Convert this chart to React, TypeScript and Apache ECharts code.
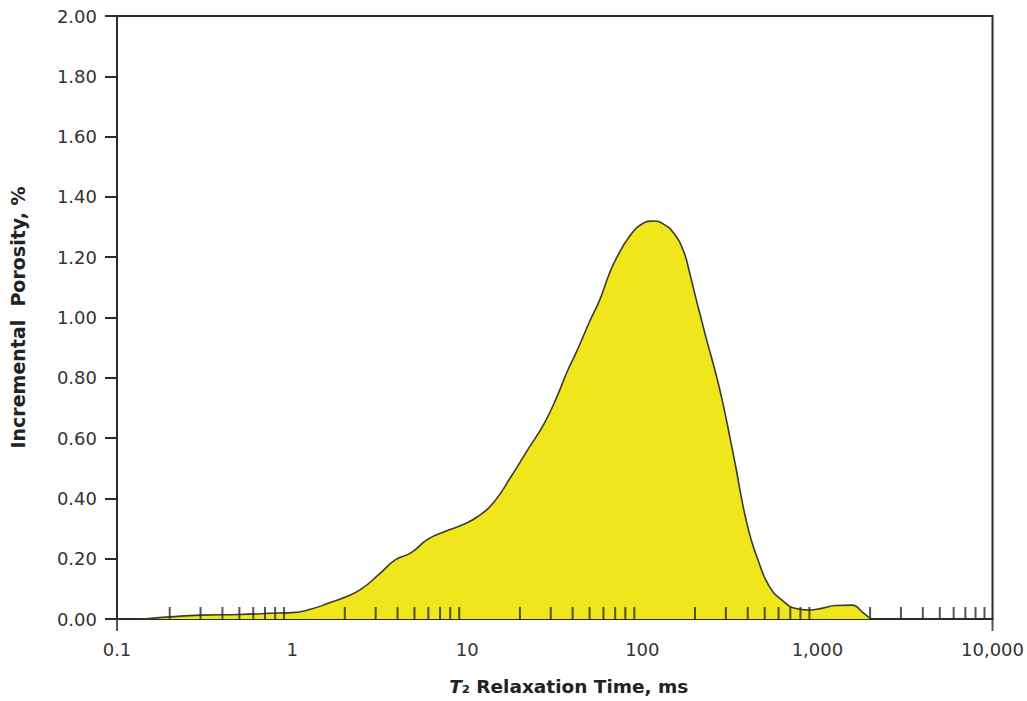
import React, { useEffect, useRef } from "react";
import * as echarts from "echarts";

// T2 relaxation time (ms) and incremental porosity (%)
const T2_MS = [0.14, 0.2, 0.3, 0.5, 0.84, 1.0, 1.29, 1.62, 2.02, 2.49, 3.11, 3.88, 4.79, 5.97, 7.46, 9.2, 11.5, 14.3, 17.7, 22.1, 27.6, 32.7, 37.2, 42.4, 50.3, 57.3, 64.3, 71.6, 84.8, 99.6, 116, 132, 151, 172, 186, 203, 216, 232, 264, 290, 317, 343, 366, 391, 420, 455, 529, 635, 752, 900, 1071, 1268, 1584, 1806, 1953, 2031];
const POROSITY = [0, 0.007, 0.013, 0.015, 0.02, 0.021, 0.033, 0.053, 0.073, 0.1, 0.146, 0.196, 0.22, 0.265, 0.29, 0.31, 0.34, 0.39, 0.47, 0.56, 0.65, 0.74, 0.82, 0.89, 0.99, 1.06, 1.14, 1.2, 1.27, 1.31, 1.32, 1.31, 1.28, 1.22, 1.15, 1.06, 1.0, 0.93, 0.81, 0.71, 0.6, 0.5, 0.41, 0.33, 0.26, 0.2, 0.11, 0.06, 0.035, 0.03, 0.036, 0.045, 0.046, 0.023, 0.007, 0];

const X_TICK_LABELS = ["0.1", "1", "10", "100", "1,000", "10,000"];
const DECADES = [0.1, 1, 10, 100, 1000];
const MINOR_MULTIPLIERS = [2, 3, 4, 5, 6, 7, 8, 9];
const AXIS_ENDS = [0.1, 10000];

const FONT = "DejaVu Sans";
const INK = "#2b2b2b";

export default function App() {
  const ref = useRef<HTMLDivElement>(null);
  useEffect(() => {
    if (!ref.current) return;
    const chart = echarts.init(ref.current, null, { renderer: "svg" });
    const curve = T2_MS.map((t, i) => [t, POROSITY[i]]);
    const minorTicks: number[][] = [];
    DECADES.forEach((d) => MINOR_MULTIPLIERS.forEach((m) => minorTicks.push([+(d * m).toPrecision(6), 0])));
    const endTicks = AXIS_ENDS.map((t) => [t, 0]);

    chart.setOption({
      animation: false,
      backgroundColor: "#ffffff",
      grid: {
        left: 117,
        right: 20,
        top: 16,
        bottom: 82,
        show: true,
        borderColor: INK,
        borderWidth: 2,
      },
      xAxis: {
        type: "log",
        logBase: 10,
        min: 0.1,
        max: 10000,
        name: "{i|T}{n|₂ Relaxation Time, ms}",
        nameLocation: "middle",
        nameGap: 58,
        nameTextStyle: {
          padding: [0, 0, 0, 28],
          rich: {
            i: { fontFamily: FONT, fontSize: 18.5, fontWeight: "bold", fontStyle: "italic", color: "#222" },
            n: { fontFamily: FONT, fontSize: 18.5, fontWeight: "bold", color: "#222" },
          },
        },
        axisLine: { show: true, lineStyle: { color: INK, width: 2 } },
        axisTick: { show: false },
        minorTick: { show: false },
        splitLine: { show: false },
        axisLabel: {
          margin: 21,
          fontFamily: FONT,
          fontSize: 18,
          color: "#333",
          showMinLabel: true,
          showMaxLabel: true,
          formatter: (v: number) => X_TICK_LABELS[Math.round(Math.log10(v)) + 1] ?? "",
        },
      },
      yAxis: {
        type: "value",
        min: 0,
        max: 2,
        interval: 0.2,
        name: "Incremental  Porosity, %",
        nameLocation: "middle",
        nameGap: 90,
        nameTextStyle: { fontFamily: FONT, fontSize: 19, fontWeight: "bold", color: "#222" },
        axisLine: { show: true, lineStyle: { color: INK, width: 2 } },
        axisTick: { show: true, inside: false, length: 12, lineStyle: { color: INK, width: 2 } },
        splitLine: { show: false },
        axisLabel: {
          margin: 20,
          fontFamily: FONT,
          fontSize: 18,
          color: "#333",
          formatter: (v: number) => v.toFixed(2),
        },
      },
      series: [
        {
          type: "line",
          data: curve,
          smooth: 0.5,
          symbol: "none",
          lineStyle: { color: "#3a3a2e", width: 1.6 },
          areaStyle: { color: "#EFE71C", opacity: 1 },
          z: 2,
        },
        {
          type: "scatter",
          data: minorTicks,
          symbol: "rect",
          symbolSize: [2, 12],
          symbolOffset: [0, -6],
          itemStyle: { color: INK },
          clip: false,
          silent: true,
          z: 5,
        },
        {
          type: "scatter",
          data: endTicks,
          symbol: "rect",
          symbolSize: [2, 12],
          symbolOffset: [0, 6],
          itemStyle: { color: INK },
          clip: false,
          silent: true,
          z: 5,
        },
      ],
    });
    return () => chart.dispose();
  }, []);
  return (
    <div
      ref={ref}
      style={{ position: "absolute", left: 0, top: 0, width: 1027, height: 701 }}
    />
  );
}
